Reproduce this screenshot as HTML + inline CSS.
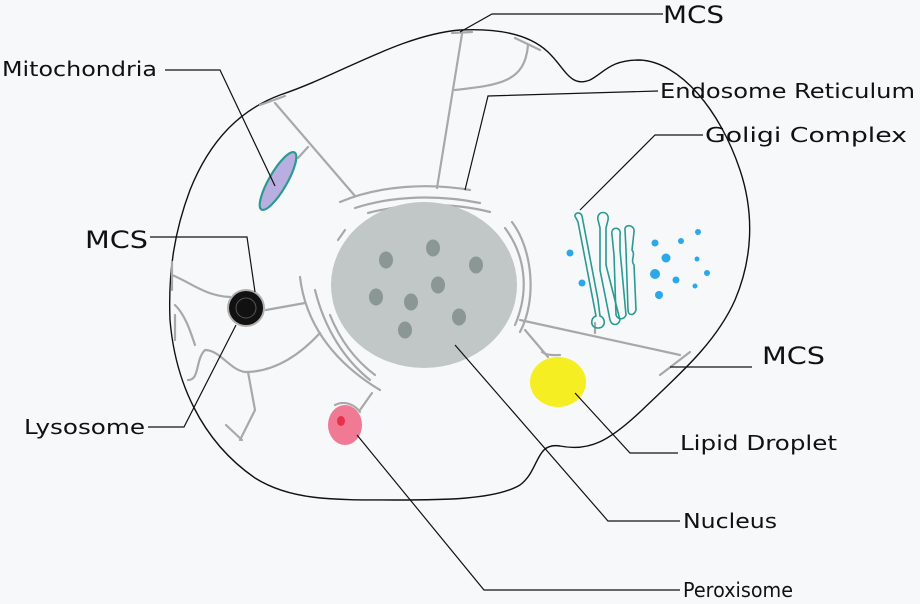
<!DOCTYPE html><html><head><style>html,body{margin:0;padding:0;background:#f7f8fa}svg{display:block}text{font-family:"DejaVu Sans","Liberation Sans",sans-serif;fill:#111}</style></head><body>
<svg width="920" height="604" viewBox="0 0 920 604">
<rect width="920" height="604" fill="#f7f8fa"/>
<path d="M460,30 C500,28 530,35 548,52 C565,68 570,88 590,80 C605,72 610,60 640,60 C680,62 720,110 740,170 C755,215 752,260 735,300 C715,345 675,378 640,412 C610,440 590,452 560,446 C535,442 540,470 520,485 C495,500 440,500 395,500 C330,500 290,500 255,478 C200,440 175,380 170,320 C168,270 175,230 190,190 C210,140 240,110 280,95 C340,75 400,35 460,30 Z" fill="none" stroke="#111" stroke-width="1.4"/>
<g stroke="#a6a9aa" stroke-width="2.2" fill="none" stroke-linecap="round">
<path d="M355,196 L275,103"/><path d="M308,147 L298,158"/>
<path d="M437,188 L462,34"/><path d="M455,90 C500,85 525,82 528,45"/>
<path d="M266,310 L305,303"/>
<path d="M172,275 C190,282 205,296 230,297"/>
<path d="M320,333 C295,360 270,372 245,372 C230,370 220,350 205,350 C195,360 200,380 188,380"/>
<path d="M175,305 C185,315 190,330 195,345"/>
<path d="M248,372 L255,410 L240,440"/>
<path d="M520,320 L680,355"/><path d="M595,323 L595,333"/>
<path d="M525,330 L548,357"/>
<path d="M372,393 L360,410"/>
<path d="M452,33 L472,32"/><path d="M515,38 L540,50"/><path d="M260,105 L285,96"/>
<path d="M172,262 L172,290"/><path d="M175,315 L175,340"/><path d="M226,425 L242,440"/>
<path d="M660,375 L690,352"/>
<path d="M340,202 C380,185 430,183 470,190"/>
<path d="M355,208 C395,195 440,195 480,203"/>
<path d="M368,213 C410,202 455,203 490,212"/>
<path d="M505,228 C525,255 530,290 515,325"/>
<path d="M512,222 C533,250 537,300 520,332"/>
<path d="M300,277 C305,320 330,360 380,390"/>
<path d="M315,290 C325,330 345,360 370,380"/>
<path d="M330,315 C340,340 355,360 375,375"/>
<path d="M338,240 L345,230"/>
<path d="M542,352 C548,356 555,355 560,355"/>
<path d="M335,405 C345,400 355,405 360,412"/>
</g>
<ellipse cx="424" cy="285" rx="93" ry="83" fill="#c1c7c6"/>
<g fill="#8a9794">
<ellipse cx="386" cy="260" rx="7" ry="8.5"/><ellipse cx="433" cy="248" rx="7" ry="8.5"/><ellipse cx="476" cy="265" rx="7" ry="8.5"/><ellipse cx="438" cy="285" rx="7" ry="8.5"/><ellipse cx="376" cy="297" rx="7" ry="8.5"/><ellipse cx="411" cy="302" rx="7" ry="8.5"/><ellipse cx="459" cy="317" rx="7" ry="8.5"/><ellipse cx="405" cy="330" rx="7" ry="8.5"/>
</g>
<ellipse cx="278" cy="181" rx="33" ry="9" transform="rotate(-60 278 181)" fill="#b9aee0" stroke="#2a9a92" stroke-width="2.2"/>
<circle cx="246" cy="308" r="19" fill="#b0b0b0"/><circle cx="246" cy="308" r="17" fill="#111"/>
<circle cx="246" cy="308" r="10" fill="none" stroke="#555" stroke-width="1"/>
<ellipse cx="345" cy="425" rx="17" ry="20" fill="#f07a93"/><ellipse cx="341" cy="421" rx="4" ry="5" fill="#e8304a"/>
<ellipse cx="558" cy="382" rx="28" ry="25" fill="#f5ee22"/>
<g fill="none" stroke="#2a9a92" stroke-width="1.6">
<path d="M576,218 C572,214 580,210 582,216 L598,300 L600,316 C606,318 606,328 598,328 C590,328 590,318 596,316 L578,222 Z"/>
<path d="M598,220 C596,210 610,210 608,220 L606,228 L606,265 L620,320 C618,326 612,326 610,320 L600,270 L600,228 Z"/>
<path d="M612,235 C610,226 622,226 620,235 L620,250 L626,315 C624,320 618,320 616,315 L614,255 Z"/>
<path d="M625,230 C624,224 635,224 634,232 L632,250 C636,255 630,260 634,265 L636,310 C634,316 628,316 628,310 L626,250 Z"/>
</g>
<g fill="#2aa8ea">
<circle cx="570" cy="253" r="3.5"/><circle cx="582" cy="283" r="3.5"/><circle cx="655" cy="243" r="3.5"/><circle cx="681" cy="241" r="3"/><circle cx="698" cy="232" r="3"/><circle cx="666" cy="258" r="4.5"/><circle cx="655" cy="274" r="5"/><circle cx="676" cy="280" r="3.5"/><circle cx="697" cy="259" r="2.5"/><circle cx="707" cy="273" r="3"/><circle cx="659" cy="295" r="4"/><circle cx="695" cy="286" r="2.5"/>
</g>
<g stroke="#111" stroke-width="1.2" fill="none">
<path d="M663,14 L492,14 L460,32"/>
<path d="M165,70 L220,70 L275,186"/>
<path d="M658,91 L488,96 L465,190"/>
<path d="M703,135 L655,135 L580,210"/>
<path d="M150,237 L247,237 L255,292"/>
<path d="M148,427 L184,427 L236,325"/>
<path d="M678,453 L630,453 L575,393"/>
<path d="M680,521 L608,521 L455,345"/>
<path d="M680,590 L484,590 L357,435"/>
<path d="M752,367 L670,367"/>
</g>
<text x="663" y="23" font-size="24" textLength="61" lengthAdjust="spacingAndGlyphs">MCS</text>
<text x="2" y="76" font-size="20" textLength="155" lengthAdjust="spacingAndGlyphs">Mitochondria</text>
<text x="660" y="98" font-size="20" textLength="255" lengthAdjust="spacingAndGlyphs">Endosome Reticulum</text>
<text x="705" y="142" font-size="20" textLength="202" lengthAdjust="spacingAndGlyphs">Goligi Complex</text>
<text x="85" y="248" font-size="24" textLength="63" lengthAdjust="spacingAndGlyphs">MCS</text>
<text x="762" y="364" font-size="24" textLength="63" lengthAdjust="spacingAndGlyphs">MCS</text>
<text x="24" y="434" font-size="20" textLength="121" lengthAdjust="spacingAndGlyphs">Lysosome</text>
<text x="680" y="450" font-size="20" textLength="157" lengthAdjust="spacingAndGlyphs">Lipid Droplet</text>
<text x="683" y="528" font-size="20" textLength="94" lengthAdjust="spacingAndGlyphs">Nucleus</text>
<text x="683" y="597" font-size="20" textLength="110" lengthAdjust="spacingAndGlyphs">Peroxisome</text>
</svg></body></html>
